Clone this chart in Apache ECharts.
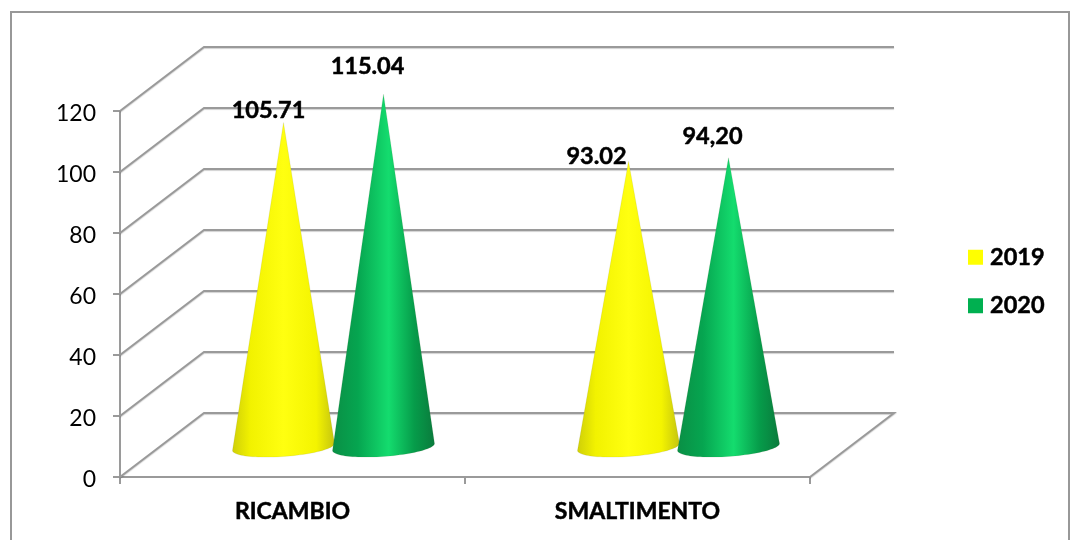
<!DOCTYPE html>
<html>
<head>
<meta charset="utf-8">
<style>
  html, body { margin: 0; padding: 0; background: #fff; }
  #chart { width: 1071px; height: 540px; }
</style>
<script src="https://cdn.jsdelivr.net/npm/echarts@6/dist/echarts.min.js"></script>
</head>
<body>
<div id="chart"></div>
<script>
// Categories, series and value labels
const categories = ['RICAMBIO', 'SMALTIMENTO'];
const values2019 = [105.71, 93.02];
const values2020 = [115.04, 94.20];
const labels2019 = ['105.71', '93.02'];
const labels2020 = ['115.04', '94,20'];
const yTicks = [0, 20, 40, 60, 80, 100, 120];

// Oblique projection used for the walls and the floor
const DEPTH_X = 84;
const DEPTH_Y = -64;
const FONT = 'Lato, "Open Sans", sans-serif';
const LINE = '#9a9a9a';

const lineStyle = {
  stroke: LINE, lineWidth: 2, fill: null,
  shadowColor: 'rgba(0,0,0,0.18)', shadowBlur: 1, shadowOffsetY: 1
};

// Side wall, back wall and floor outlines, one per value tick
function renderWall(params, api) {
  const cs = params.coordSys;
  const y = api.coord([0, api.value(1)])[1];
  const left = cs.x, right = cs.x + cs.width;
  const pts = [[left, y], [left + DEPTH_X, y + DEPTH_Y], [right + DEPTH_X, y + DEPTH_Y]];
  if (api.value(1) === 0) pts.push([right, y]);
  return { type: 'polyline', shape: { points: pts }, style: lineStyle, silent: true };
}

// A cone standing halfway into the floor depth, with its label above the tip.
// The base ellipse is tilted a little, as the view is taken from the left.
function coneRenderer(shift, stops, labels, labelShift) {
  return function (params, api) {
    const i = api.value(0);
    const tip = api.coord([i, api.value(1)]);
    const foot = api.coord([i, 0]);
    const cx = tip[0] + DEPTH_X / 2 + shift;
    const tipY = tip[1] + DEPTH_Y / 2;
    const baseY = foot[1] + DEPTH_Y / 2 + 2;
    const rx = 51, ry = 9.5, tilt = 3.5;
    const pts = [[cx, tipY]];
    for (let k = 0; k <= 48; k++) {
      const a = Math.PI * k / 48;
      pts.push([cx + rx * Math.cos(a), baseY + ry * Math.sin(a) - tilt * Math.cos(a)]);
    }
    const nudge = labelShift[i];
    return {
      type: 'group',
      children: [
        {
          type: 'polygon',
          shape: { points: pts },
          style: {
            fill: new echarts.graphic.LinearGradient(0, 0, 1, 0, stops),
            stroke: 'rgba(90,90,60,0.18)', lineWidth: 0.6
          }
        },
        {
          type: 'text',
          z2: 10,
          style: {
            text: labels[i],
            x: cx + nudge[0],
            y: tipY + nudge[1],
            align: 'center',
            verticalAlign: 'middle',
            font: 'bold 23.5px ' + FONT,
            fill: '#000',
            stroke: '#000',
            lineWidth: 0.5
          }
        }
      ]
    };
  };
}

const yellowStops = [
  { offset: 0, color: '#cfcf08' }, { offset: 0.18, color: '#f2f200' },
  { offset: 0.5, color: '#ffff10' }, { offset: 0.82, color: '#f4f400' },
  { offset: 1, color: '#c4c410' }
];
const greenStops = [
  { offset: 0, color: '#0a8f45' }, { offset: 0.25, color: '#06a550' },
  { offset: 0.55, color: '#14dc6e' }, { offset: 0.8, color: '#069c4a' },
  { offset: 1, color: '#0a7a3c' }
];

const chart = echarts.init(document.getElementById('chart'), null, { renderer: 'canvas' });
chart.setOption({
  animation: false,
  backgroundColor: '#fff',
  graphic: [{
    type: 'rect', silent: true, z: -1,
    shape: { x: 11, y: 12, width: 1058, height: 560 },
    style: { fill: '#fff', stroke: '#989898', lineWidth: 2 }
  }],
  grid: { left: 120, right: 261, top: 111, bottom: 63, containLabel: false },
  legend: {
    data: ['2019', '2020'],
    orient: 'vertical',
    left: 968, top: 245,
    padding: 0,
    itemWidth: 15, itemHeight: 15, itemGap: 24,
    icon: 'rect',
    textStyle: {
      fontFamily: FONT, fontWeight: 'bold', fontSize: 23.5, color: '#000',
      padding: [0, 0, 0, 2], textBorderColor: '#000', textBorderWidth: 0.5
    }
  },
  xAxis: {
    type: 'category',
    data: categories,
    axisLine: { lineStyle: { color: LINE, width: 2 } },
    axisTick: { show: true, alignWithLabel: false, length: 7, lineStyle: { color: LINE, width: 2 } },
    axisLabel: {
      margin: 23, fontFamily: FONT, fontWeight: 'bold', fontSize: 23, color: '#000',
      textBorderColor: '#000', textBorderWidth: 0.5
    }
  },
  yAxis: {
    type: 'value',
    min: 0, max: 120, interval: 20,
    axisLine: { show: true, lineStyle: { color: LINE, width: 2 } },
    axisTick: { show: true, length: 7, lineStyle: { color: LINE, width: 2 } },
    splitLine: { show: false },
    axisLabel: {
      margin: 24, fontFamily: FONT, fontSize: 23, color: '#000',
      formatter: '{shifted|{value}}',
      rich: { shifted: { fontFamily: FONT, fontSize: 23, color: '#000', padding: [5, 0, 0, 0] } }
    }
  },
  series: [
    {
      type: 'custom', name: 'walls', silent: true, z: 1,
      data: yTicks.map(v => [0, v]),
      renderItem: renderWall
    },
    {
      type: 'custom', name: '2019', z: 2,
      itemStyle: { color: '#ffff00' },
      data: values2019.map((v, i) => [i, v]),
      renderItem: coneRenderer(-51, yellowStops, labels2019, [[-15, -12], [-32, -5]])
    },
    {
      type: 'custom', name: '2020', z: 3,
      itemStyle: { color: '#00b050' },
      data: values2020.map((v, i) => [i, v]),
      renderItem: coneRenderer(49, greenStops, labels2020, [[-16, -28], [-16, -21]])
    }
  ]
});
</script>
</body>
</html>
